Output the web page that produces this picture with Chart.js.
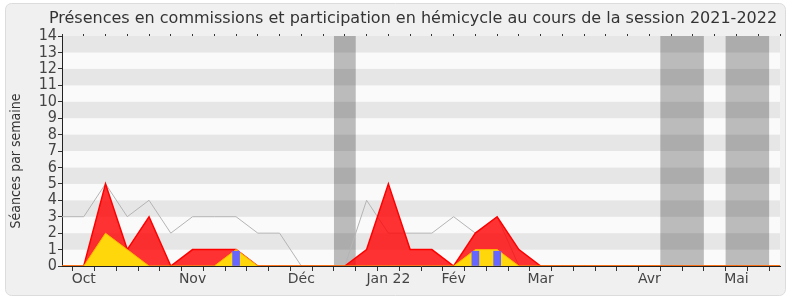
<!DOCTYPE html>
<html lang="fr">
<head>
<meta charset="utf-8">
<title>Présences 2021-2022</title>
<script src="https://cdn.jsdelivr.net/npm/chart.js@4.4.0/dist/chart.umd.min.js"></script>
<style>
  html, body { margin: 0; padding: 0; background: #fff; }
  #cadre { width: 790px; height: 300px; }
</style>
</head>
<body>
<div id="cadre"><canvas id="graphique" width="790" height="300"></canvas></div>
<script>
// une entrée par semaine, de fin septembre 2021 à mai 2022
const semaines = ['', 'Oct', '', '', '', '', 'Nov', '', '', '', '', 'Déc', '', '', '', 'Jan 22', '', '',
  'Fév', '', '', '', 'Mar', '', '', '', '', 'Avr', '', '', '', 'Mai', '', ''];

const commissions = [0, 0, 5, 1, 3, 0, 1, 1, 1, 0, 0, 0, 0, 0, 1, 5, 1, 1,
  0, 2, 3, 1, 0, 0, 0, 0, 0, 0, 0, 0, 0, 0, 0, 0];

const hemicycle = [0, 0, 2, 1, 0, 0, 0, 0, 1, 0, 0, 0, 0, 0, 0, 0, 0, 0,
  0, 1, 1, 0, 0, 0, 0, 0, 0, 0, 0, 0, 0, 0, 0, 0];

const questions = [null, null, null, null, null, null, null, null, 0.9, null, null, null, null, null, null, null, null, null,
  null, 0.9, 0.9, null, null, null, null, null, null, null, null, null, null, null, null, null];

const mediane = [3, 3, 5, 3, 4, 2, 3, 3, 3, 2, 2, 0, 0, 0, 4, 2, 2, 2,
  3, 2, 3, 0, 0, 0, 0, 0, 0, 0, 0, 0, 0, 0, 0, 0];

// semaines de vacances parlementaires (bornes en semaines)
const vacances = [[12.5, 13.5], [27.5, 29.5], [30.5, 32.5]];

const yMax = 14;

const fond = {
  id: 'fond',
  beforeDraw(chart) {
    const { ctx, chartArea: a, scales: { y } } = chart;
    ctx.save();
    ctx.fillStyle = '#f0f0f0';
    ctx.strokeStyle = '#dcdcdc';
    ctx.beginPath();
    ctx.roundRect(5.5, 3.5, 780, 292, 6);
    ctx.fill();
    ctx.stroke();
    for (let v = 0; v < yMax; v++) {
      ctx.fillStyle = v % 2 === 1 ? '#e6e6e6' : '#fafafa';
      const haut = y.getPixelForValue(v + 1);
      const bas = y.getPixelForValue(v);
      ctx.fillRect(a.left, haut, a.right - a.left, bas - haut);
    }
    ctx.restore();
  },
  beforeDatasetsDraw(chart) {
    const { ctx, chartArea: a, scales: { x } } = chart;
    ctx.save();
    ctx.fillStyle = 'rgba(0,0,0,0.25)';
    vacances.forEach(([d, f]) => {
      const x1 = x.getPixelForValue(d);
      const x2 = x.getPixelForValue(f);
      ctx.fillRect(x1, a.top, x2 - x1, a.bottom - a.top);
    });
    ctx.restore();
  },
  afterDraw(chart) {
    const { ctx } = chart;
    ctx.save();
    ctx.fillStyle = '#333';
    ctx.textAlign = 'center';
    ctx.textBaseline = 'middle';
    ctx.font = '16px "DejaVu Sans"';
    ctx.fillText('Présences en commissions et participation en hémicycle au cours de la session 2021-2022', 413, 19);
    ctx.translate(16, 161);
    ctx.rotate(-Math.PI / 2);
    ctx.font = '14px "DejaVu Sans Condensed", "DejaVu Sans"';
    ctx.fillText('Séances par semaine', 0, 0);
    ctx.restore();
  }
};

new Chart(document.getElementById('graphique'), {
  type: 'line',
  data: {
    labels: semaines,
    datasets: [
      {
        type: 'bar',
        data: questions,
        backgroundColor: '#6666ff',
        barThickness: 7,
        order: 0
      },
      {
        data: hemicycle,
        borderColor: '#ffb400',
        borderWidth: 1,
        backgroundColor: '#ffd70a',
        fill: 'origin',
        pointRadius: 0,
        tension: 0,
        order: 1
      },
      {
        data: commissions,
        borderColor: '#ff0000',
        borderWidth: 1.5,
        backgroundColor: 'rgba(255,0,0,0.8)',
        fill: 'origin',
        pointRadius: 0,
        tension: 0,
        order: 2
      },
      {
        data: mediane,
        borderColor: '#b4b4b4',
        borderWidth: 1,
        fill: false,
        pointRadius: 0,
        tension: 0,
        order: 3
      }
    ]
  },
  options: {
    responsive: false,
    animation: false,
    devicePixelRatio: 1,
    layout: { padding: { top: 34, right: 10, left: 0, bottom: 0 } },
    plugins: {
      legend: { display: false },
      tooltip: { enabled: false },
      title: { display: false }
    },
    scales: {
      x: {
        type: 'category',
        offset: false,
        afterFit(s) { s.height = 34; },
        grid: { drawOnChartArea: false, tickLength: 5, color: '#333' },
        border: { color: '#222' },
        ticks: {
          autoSkip: false,
          maxRotation: 0,
          padding: 0,
          color: '#444',
          font: { family: 'DejaVu Sans', size: 14 }
        }
      },
      x2: {
        type: 'category',
        position: 'top',
        offset: false,
        afterFit(s) { s.height = 2; },
        grid: { drawOnChartArea: false, tickLength: 2, color: '#333' },
        border: { display: false },
        ticks: { display: false }
      },
      y: {
        min: 0,
        max: yMax,
        afterFit(s) { s.width = 62; },
        grid: { drawOnChartArea: false, tickLength: 4, color: '#333' },
        border: { color: '#222' },
        ticks: {
          stepSize: 1,
          autoSkip: false,
          padding: 1,
          color: '#444',
          font: { family: '"DejaVu Sans Condensed", "DejaVu Sans"', size: 16 }
        }
      }
    }
  },
  plugins: [fond]
});
</script>
</body>
</html>
